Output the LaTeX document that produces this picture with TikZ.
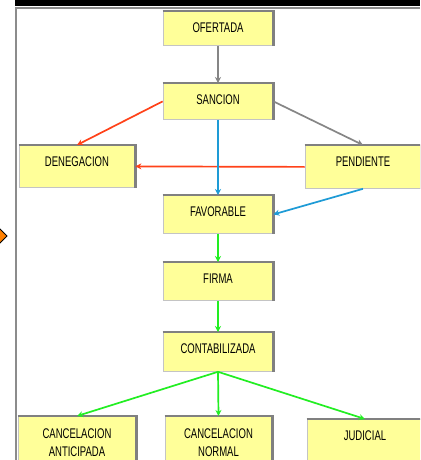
\documentclass[tikz,border=0pt]{standalone}
\usepackage{fontspec}
\usetikzlibrary{arrows.meta}
\newfontfamily\boxfont[FakeStretch=0.68]{Liberation Sans}
\definecolor{boxyellow}{HTML}{FFFF99}
\definecolor{framegray}{HTML}{8C8C8C}
\definecolor{edgegray}{HTML}{C4C4C4}
\definecolor{shadegray}{HTML}{808080}
\definecolor{linkgray}{HTML}{868686}
\definecolor{linkred}{HTML}{FF4219}
\definecolor{linkblue}{HTML}{1E9BD6}
\definecolor{linkgreen}{HTML}{22EE22}
\tikzset{
    box/.style={fill=boxyellow, draw=edgegray, line width=0.8pt, anchor=north,
        inner xsep=0pt, inner ysep=0pt, font=\boxfont\fontsize{14}{18}\selectfont},
    oneline/.style={box, text height=21pt},
    twoline/.style={box, align=center, minimum height=52pt},
    boxshade/.style={draw=shadegray, line width=2.2pt},
    link/.style={line width=1.7pt, -{Stealth[length=6pt,width=6pt]}}
}

\begin{document}
\begin{tikzpicture}[x=1pt,y=-1pt]
        \clip (0,0) rectangle (420,460);
        \fill[white] (0,0) rectangle (420,460);
        \fill[black] (15,0) rectangle (420,6);
        \draw[framegray, line width=2pt] (16,460) -- (16,8.5) -- (420,8.5);
        \filldraw[fill=orange, draw=black, line width=0.8pt] (-3,226) -- (7,236) -- (-3,246) -- (-13,236) -- cycle;
        \node[oneline, minimum width=110pt, text depth=13pt] (ofertada) at (218,11) {OFERTADA};
        \node[oneline, minimum width=110pt, text depth=15pt] (sancion) at (218,83) {SANCION};
        \node[oneline, minimum width=116pt, text depth=21pt] (denegacion) at (77,145) {DENEGACION};
        \node[oneline, minimum width=116pt, text depth=22pt] (pendiente) at (363,145) {PENDIENTE};
        \node[oneline, minimum width=110pt, text depth=17pt] (favorable) at (218,195) {FAVORABLE};
        \node[oneline, minimum width=110pt, text depth=17pt] (firma) at (218,262) {FIRMA};
        \node[oneline, minimum width=110pt, text depth=18pt] (contabilizada) at (218,332) {CONTABILIZADA};
        \node[twoline, minimum width=118pt] (anticipada) at (77,416) {CANCELACION\\ANTICIPADA};
        \node[twoline, minimum width=107pt] (normal) at (218.5,416) {CANCELACION\\NORMAL};
        \node[oneline, minimum width=116pt, text depth=30pt] (judicial) at (365,419) {JUDICIAL};
        \foreach \n in {ofertada,sancion,denegacion,pendiente,favorable,firma,contabilizada,anticipada,normal,judicial}
            \draw[boxshade] (\n.north west) -- (\n.north east) -- (\n.south east);
        \draw[link, linkgray] (ofertada) -- (sancion);
        \draw[link, linkgray] (sancion.east) -- (pendiente.north);
        \draw[link, linkred] (sancion.west) -- (denegacion.north);
        \draw[link, linkred] (pendiente.west) -- (denegacion.east);
        \draw[link, linkblue] (sancion) -- (favorable);
        \draw[link, linkblue] (pendiente.south) -- (favorable.east);
        \draw[link, linkgreen] (favorable) -- (firma);
        \draw[link, linkgreen] (firma) -- (contabilizada);
        \draw[link, linkgreen] (contabilizada.south) -- (anticipada.north);
        \draw[link, linkgreen] (contabilizada.south) -- (normal.north);
        \draw[link, linkgreen] (contabilizada.south) -- (judicial.north);
    \end{tikzpicture}
\end{document}
